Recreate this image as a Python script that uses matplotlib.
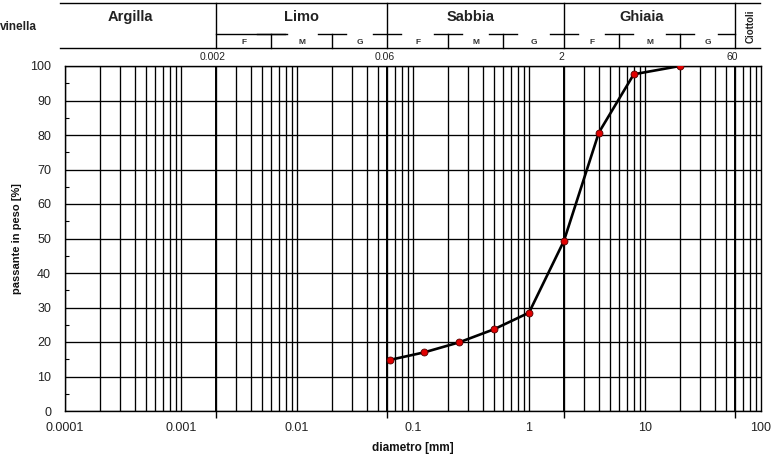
import matplotlib
matplotlib.use("Agg")
import matplotlib.pyplot as plt
import numpy as np
from matplotlib.ticker import FixedLocator, NullFormatter, MultipleLocator

plt.rcParams['font.family'] = ['Liberation Sans', 'DejaVu Sans']

# ---- data ----
diametro = [0.063, 0.125, 0.25, 0.5, 1.0, 2.0, 4.0, 8.0, 20.0]
passante = [14.8, 17.0, 19.9, 23.7, 28.5, 49.3, 80.7, 97.6, 100.0]

x_tick_vals = [0.0001, 0.001, 0.01, 0.1, 1, 10, 100]
x_tick_labels = ['0.0001', '0.001', '0.01', '0.1', '1', '10', '100']
y_ticks = [0, 10, 20, 30, 40, 50, 60, 70, 80, 90, 100]

boundaries = [0.002, 0.06, 2, 60]
boundary_labels = ['0.002', '0.06', '2', '60']
sub_dividers = [0.006, 0.02, 0.2, 0.6, 6, 20]
classes = ['Argilla', 'Limo', 'Sabbia', 'Ghiaia']
sub_labels = ['F', 'M', 'G']

W, H = 774, 463
fig = plt.figure(figsize=(W / 100, H / 100), dpi=100)

L, R, T, B = 65, 761, 66, 411
ax = fig.add_axes([L / W, (H - B) / H, (R - L) / W, (B - T) / H])
ax.set_xscale('log')
ax.set_xlim(1e-4, 100)
ax.set_ylim(0, 100)

# vertical grid (1..9 each decade)
for e in range(-4, 2):
    for k in range(1, 10):
        v = k * 10.0 ** e
        ax.axvline(v, color='black', lw=0.95, zorder=1)
for b in boundaries:
    ax.axvline(b, color='black', lw=1.4, zorder=1)
for yv in y_ticks:
    ax.axhline(yv, color='black', lw=0.95, zorder=1)

ax.plot(diametro, passante, color='black', lw=1.9, zorder=3)
ax.plot(diametro, passante, 'o', ms=5, mfc='#e00000', mec='#500000', mew=0.6, zorder=4)

ax.xaxis.set_major_locator(FixedLocator(x_tick_vals))
ax.set_xticklabels(x_tick_labels)
ax.xaxis.set_minor_locator(FixedLocator([1e-4] + boundaries + [100]))
ax.xaxis.set_minor_formatter(NullFormatter())
ax.tick_params(axis='x', which='major', length=0, pad=8, labelsize=9, labelcolor='#222222')
ax.tick_params(axis='x', which='minor', length=5, width=1, direction='out')

ax.set_yticks(y_ticks)
ax.yaxis.set_minor_locator(MultipleLocator(5))
ax.tick_params(axis='y', which='major', length=0, pad=10, labelsize=9, labelcolor='#222222')
ax.tick_params(axis='y', which='minor', length=3, width=0.8, direction='in')

for s in ax.spines.values():
    s.set_linewidth(1.0)

ax.set_xlabel('diametro [mm]', fontsize=8.5, fontweight='bold', labelpad=6, color='#111111')
ax.set_ylabel('passante in peso [%]', fontsize=8, fontweight='bold', labelpad=6, color='#111111')

# ---- header table ----
hax = fig.add_axes([L / W, (H - 48) / H, (R - L) / W, 45 / H])
hax.set_xscale('log')
hax.set_xlim(1e-4, 100)
hax.set_ylim(48, 3)
hax.axis('off')

def px2x(p):
    return 10 ** ((p - L) / ((R - L) / 6.0) - 4)

x_left, x_right = px2x(60), px2x(760)
hax.plot([x_left, x_right], [3, 3], color='black', lw=1, clip_on=False)
hax.plot([x_left, x_right], [47.5, 47.5], color='black', lw=1, clip_on=False)
for b in boundaries:
    hax.plot([b, b], [3, 47.5], color='black', lw=1, clip_on=False)
for d in sub_dividers:
    hax.plot([d, d], [34, 47.5], color='black', lw=1, clip_on=False)
    hax.plot([d * 10 ** -0.12, d * 10 ** 0.12], [34, 34], color='black', lw=1, clip_on=False)
hax.plot([0.002, px2x(287)], [34, 34], color='black', lw=1, clip_on=False)
for b in [0.06, 2]:
    hax.plot([b * 10 ** -0.12, b * 10 ** 0.12], [34, 34], color='black', lw=1, clip_on=False)
hax.plot([60 * 10 ** -0.15, 60], [34, 34], color='black', lw=1, clip_on=False)

# class titles
class_centers = [px2x(130), np.sqrt(0.002 * 0.06), np.sqrt(0.06 * 2) * 0.9, np.sqrt(2 * 60) * 0.85]
for c, name in zip(class_centers, classes):
    hax.text(c, 17, name, ha='center', va='center', fontsize=10.5, fontweight='bold', color='#222222')
hax.text(px2x(751), 26, 'Ciottoli', rotation=90, ha='center', va='center', fontsize=7, fontweight='bold', color='#222222')

edges = [[0.002, 0.006, 0.02, 0.06], [0.06, 0.2, 0.6, 2], [2, 6, 20, 60]]
for grp in edges:
    for i, lab in enumerate(sub_labels):
        xc = np.sqrt(grp[i] * grp[i + 1])
        hax.text(xc, 43, lab, ha='center', va='center', fontsize=6, fontweight='bold', color='#333333')

for b, lab in zip(boundaries, boundary_labels):
    hax.text(b * 10 ** -0.025, 57, lab, ha='center', va='center', fontsize=7.5, color='#222222')

fig.text(0.0, 1 - 27 / H, 'vinella', ha='left', va='center', fontsize=8.5, fontweight='bold', color='#222222')

fig.savefig('out.png', dpi=100)
